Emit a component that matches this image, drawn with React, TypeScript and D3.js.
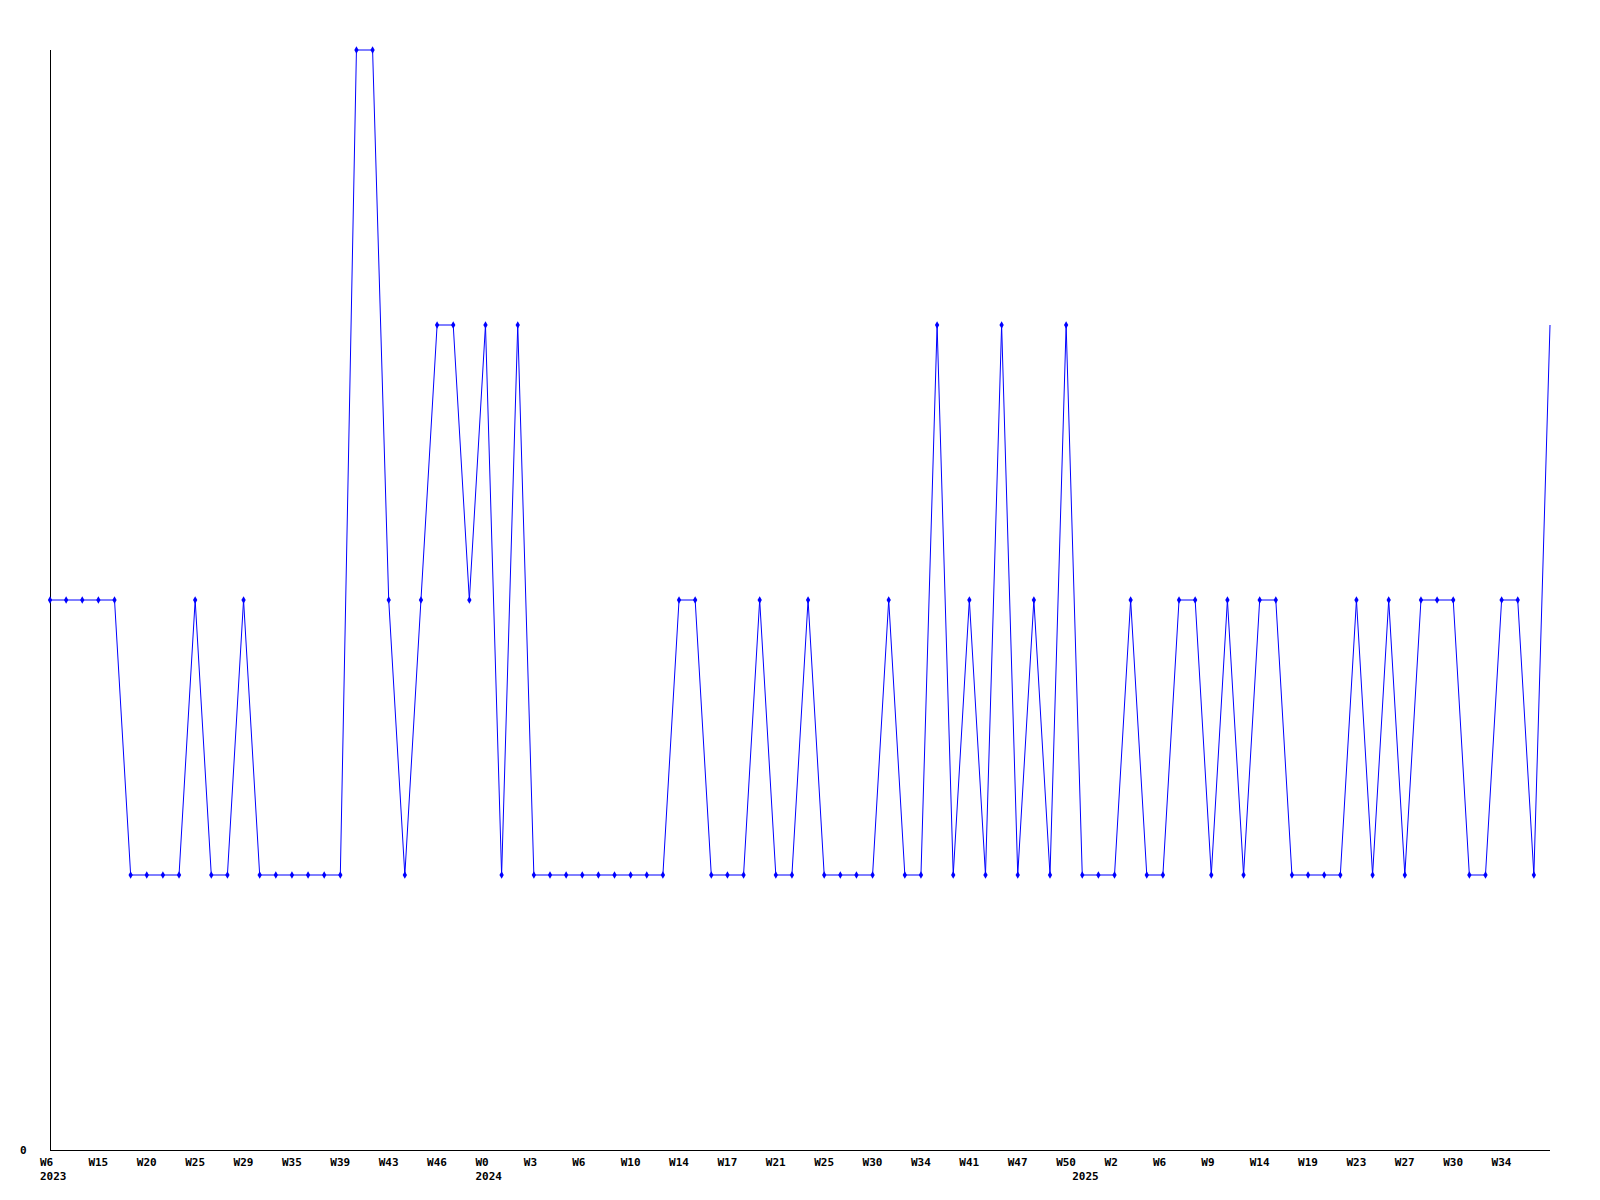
import React from "react";
import * as d3 from "d3";

const values: number[] = [
  2, 2, 2, 2, 2, 1, 1, 1, 1, 2, 1, 1, 2, 1, 1, 1, 1, 1, 1, 4, 4, 2, 1, 2, 3, 3, 2, 3, 1, 3,
  1, 1, 1, 1, 1, 1, 1, 1, 1, 2, 2, 1, 1, 1, 2, 1, 1, 2, 1, 1, 1, 1, 2, 1, 1, 3, 1, 2, 1, 3,
  1, 2, 1, 3, 1, 1, 1, 2, 1, 1, 2, 2, 1, 2, 1, 2, 2, 1, 1, 1, 1, 2, 1, 2, 1, 2, 2, 2, 1, 1,
  2, 2, 1, 3,
];

const tickLabels: string[] = [
  "W6", "W15", "W20", "W25", "W29", "W35", "W39", "W43", "W46", "W0", "W3",
  "W6", "W10", "W14", "W17", "W21", "W25", "W30", "W34", "W41", "W47", "W50",
  "W2", "W6", "W9", "W14", "W19", "W23", "W27", "W30", "W34",
];
const tickEvery = 3;

const yearLabels: string[] = ["2023", "2024", "2025"];
const yearIndex: number[] = [0, 27, 64];

const W = 1600;
const H = 1200;
const left = 50;
const right = 1550;
const top = 50;
const bottom = 1150;

export default function App() {
  const x = d3.scaleLinear().domain([0, values.length - 1]).range([left, right]);
  const y = d3.scaleLinear().domain([0, 4]).range([bottom, top]);
  const line = d3
    .line<number>()
    .x((_, i) => x(i))
    .y((d) => y(d));
  const diamond = d3.symbol().type(d3.symbolDiamond).size(16)();
  const font = "'DejaVu Sans Mono', monospace";

  return (
    <svg
      width={W}
      height={H}
      style={{ position: "absolute", left: 0, top: 0, background: "#fff" }}
    >
      <rect x={0} y={0} width={W} height={H} fill="#fff" />
      <line x1={left + 0.5} x2={left + 0.5} y1={top} y2={bottom} stroke="#000" strokeWidth={1} shapeRendering="crispEdges" />
      <line x1={left} x2={right} y1={bottom + 0.5} y2={bottom + 0.5} stroke="#000" strokeWidth={1} shapeRendering="crispEdges" />
      <text x={20} y={bottom + 4} fontFamily={font} fontWeight="bold" fontSize={11} fill="#000">
        {y.ticks(1)[0]}
      </text>
      <path d={line(values) || ""} fill="none" stroke="#0000ff" strokeWidth={1} />
      {values.map((v, i) =>
        x(i) < right - 1 ? (
          <path key={i} d={diamond || ""} transform={`translate(${x(i)},${y(v)})`} fill="#0000ff" />
        ) : null
      )}
      {tickLabels.map((t, k) => (
        <text
          key={"t" + k}
          x={x(k * tickEvery) - 10}
          y={bottom + 16}
          fontFamily={font}
          fontWeight="bold"
          fontSize={11}
          fill="#000"
        >
          {t}
        </text>
      ))}
      {yearLabels.map((t, k) => (
        <text
          key={"y" + k}
          x={x(yearIndex[k]) - 10}
          y={bottom + 30}
          fontFamily={font}
          fontWeight="bold"
          fontSize={11}
          fill="#000"
        >
          {t}
        </text>
      ))}
    </svg>
  );
}
